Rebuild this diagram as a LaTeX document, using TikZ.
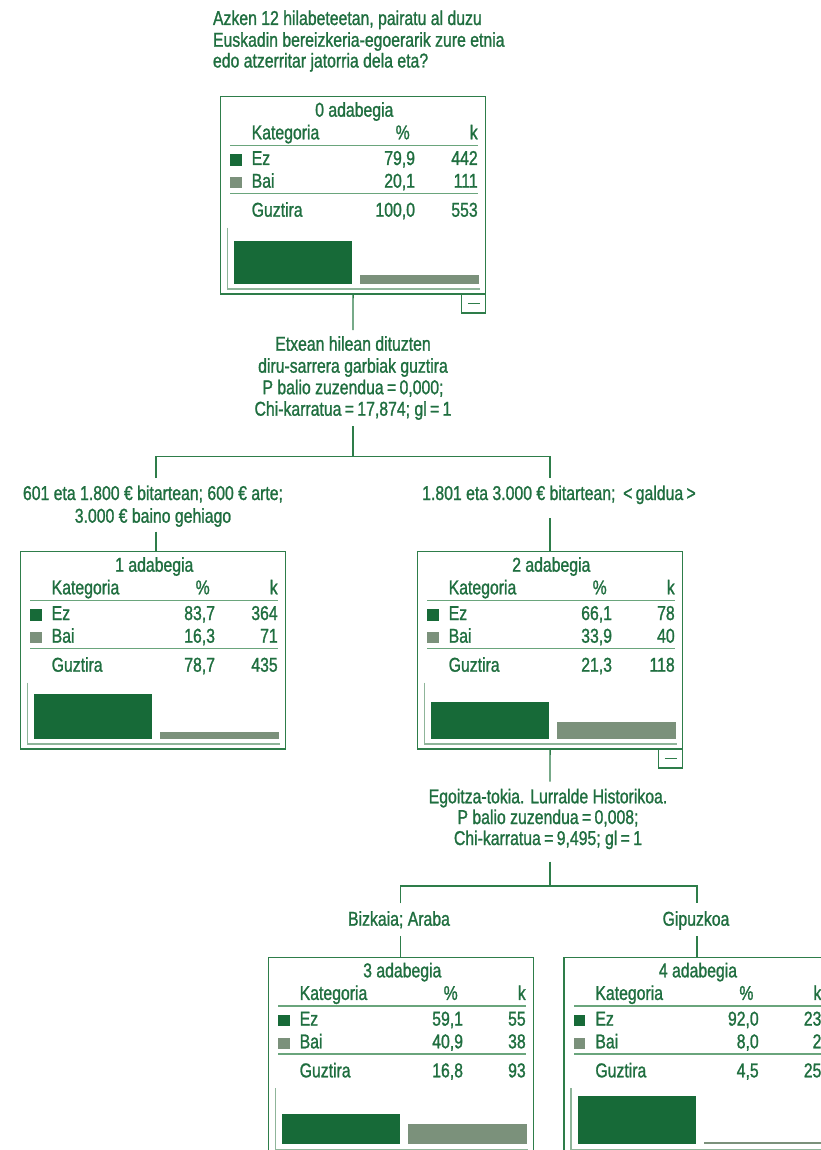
\documentclass[tikz,border=0pt]{standalone}
\usepackage{fontspec}
\setmainfont{Liberation Sans}[FakeStretch=0.79,FakeBold=1.2]
\definecolor{tgreen}{HTML}{1F6E3F}
\definecolor{bgreen}{HTML}{2E7D4A}
\definecolor{rgreen}{HTML}{6AA57C}
\definecolor{agreen}{HTML}{8FB59A}
\definecolor{ezcol}{HTML}{176A38}
\definecolor{baicol}{HTML}{7B917B}
\tikzset{
  txt/.style={inner sep=0pt, outer sep=0pt, text=tgreen, font=\fontsize{20}{24}\selectfont},
  boxframe/.style={draw=bgreen, line width=1.2pt, inner sep=0pt, outer sep=0pt},
  tree/.style={draw=bgreen, line width=1.4pt},
  rulel/.style={draw=rgreen, line width=1.3pt},
  axisl/.style={draw=agreen, line width=1.2pt},
}
\newcommand\treebox[9]{%
  \node[boxframe, anchor=north west, minimum width=265.5pt, minimum height=197.3pt] (#1) at (0,0) {};
  \node[txt, anchor=base] (#1-title) at (134,20) {#2 adabegia};
  \node[txt, anchor=base west] (#1-kat) at (31.4,42.6) {Kategoria};
  \node[txt, anchor=base] (#1-pct) at (182.4,42.6) {\%};
  \node[txt, anchor=base east] (#1-k) at (257.4,42.6) {k};
  \draw[rulel] (10,48.6) -- (258,48.6);
  \fill[ezcol] (10,57.6) rectangle (21.4,69);
  \node[txt, anchor=base west] (#1-ez) at (31.4,68.3) {Ez};
  \node[txt, anchor=base east] (#1-ezp) at (194.7,68.3) {#3};
  \node[txt, anchor=base east] (#1-ezk) at (257.4,68.3) {#4};
  \fill[baicol] (10,80.3) rectangle (21.4,91.7);
  \node[txt, anchor=base west] (#1-bai) at (31.4,91) {Bai};
  \node[txt, anchor=base east] (#1-baip) at (194.7,91) {#5};
  \node[txt, anchor=base east] (#1-baik) at (257.4,91) {#6};
  \draw[rulel] (10,96.6) -- (258,96.6);
  \node[txt, anchor=base west] (#1-tot) at (31.4,120) {Guztira};
  \node[txt, anchor=base east] (#1-totp) at (194.7,120) {#7};
  \node[txt, anchor=base east] (#1-totk) at (257.4,120) {#8};
  \draw[axisl] (7,131) -- (7,192.3) -- (260,192.3);
  \fill[ezcol] (13.7,187) rectangle (132,{187-#9});
}
\newcommand\baibar[1]{\fill[baicol] (139.7,187) rectangle (258.7,{187-#1});}
\newcommand\minusbox[1]{%
  \node[boxframe, anchor=north east, minimum width=24.3pt, minimum height=19pt] (#1-m) at (265.5,197.3) {};
  \draw[bgreen, line width=1pt] (#1-m.west) ++(6.3,0) -- ++(11.7,0);
}
\begin{document}
\begin{tikzpicture}[x=1pt,y=-1pt]
\useasboundingbox (0,0) rectangle (821,1150);
% title
\node[txt, anchor=base west] (t1) at (213,25) {Azken 12 hilabeteetan, pairatu al duzu};
\node[txt, anchor=base west] (t2) at (213,46.7) {Euskadin bereizkeria-egoerarik zure etnia};
\node[txt, anchor=base west] (t3) at (213,67.5) {edo atzerritar jatorria dela eta?};
% node 0
\begin{scope}[shift={(220.3,96.7)}]
  \treebox{n0}{0}{79,9}{442}{20,1}{111}{100,0}{553}{42.7}
  \baibar{9}
  \minusbox{n0}
\end{scope}
% split 0
\coordinate (c0) at (353,330);
\draw[tree] (n0.south) -- (c0);
\node[txt, anchor=base] (s0a) at (353,350.7) {Etxean hilean dituzten};
\node[txt, anchor=base] (s0b) at (353,372.7) {diru-sarrera garbiak guztira};
\node[txt, anchor=base] (s0c) at (353,394.2) {P balio zuzendua\,=\,0,000;};
\node[txt, anchor=base] (s0d) at (353,415.7) {Chi-karratua\,=\,17,874; gl\,=\,1};
\coordinate (c1) at (353,426);
\coordinate (h0) at (353,456.7);
\coordinate (hl) at (156,456.7);
\coordinate (hr) at (550,456.7);
\coordinate (dl) at (156,478);
\coordinate (dr) at (550,478);
\draw[tree] (c1) -- (h0);
\draw[tree] (dl) -- (hl) -- (hr) -- (dr);
\node[txt, anchor=base] (l1a) at (153,500) {601 eta 1.800 € bitartean; 600 € arte;};
\node[txt, anchor=base] (l1b) at (153,522.7) {3.000 € baino gehiago};
\node[txt, anchor=base] (r1) at (559,500) {1.801 eta 3.000 € bitartean; \,<\,galdua\,>};
% node 1
\begin{scope}[shift={(20.3,551.7)}]
  \treebox{n1}{1}{83,7}{364}{16,3}{71}{78,7}{435}{44.7}
  \baibar{6.3}
\end{scope}
% node 2
\begin{scope}[shift={(417.3,551.7)}]
  \treebox{n2}{2}{66,1}{78}{33,9}{40}{21,3}{118}{36.7}
  \baibar{17}
  \minusbox{n2}
\end{scope}
\coordinate (ul) at (156,531.5);
\draw[tree] (ul) -- (ul |- n1.north);
\coordinate (ur) at (550,518.3);
\draw[tree] (ur) -- (ur |- n2.north);
% split 2
\coordinate (c2) at (550,781.7);
\draw[tree] (n2.south) -- (c2);
\node[txt, anchor=base] (s2a) at (548,803.3) {Egoitza-tokia. Lurralde Historikoa.};
\node[txt, anchor=base] (s2b) at (548,824) {P balio zuzendua\,=\,0,008;};
\node[txt, anchor=base] (s2c) at (548,845) {Chi-karratua\,=\,9,495; gl\,=\,1};
\coordinate (c3) at (550,861.7);
\coordinate (h2) at (550,886);
\coordinate (h2l) at (400.5,886);
\coordinate (h2r) at (697,886);
\coordinate (d2l) at (400.5,903.3);
\coordinate (d2r) at (697,903.3);
\draw[tree] (c3) -- (h2);
\draw[tree] (d2l) -- (h2l) -- (h2r) -- (d2r);
\node[txt, anchor=base] (l2) at (399,925.7) {Bizkaia; Araba};
\node[txt, anchor=base] (r2) at (696,925.7) {Gipuzkoa};
% node 3
\begin{scope}[shift={(268.3,957.3)}]
  \treebox{n3}{3}{59,1}{55}{40,9}{38}{16,8}{93}{30.7}
  \baibar{20.7}
\end{scope}
% node 4
\begin{scope}[shift={(564,957.3)}]
  \treebox{n4}{4}{92,0}{23}{8,0}{2}{4,5}{25}{48.7}
  \baibar{2}
\end{scope}
\coordinate (u3) at (400.5,936);
\draw[tree] (u3) -- (u3 |- n3.north);
\coordinate (u4) at (697,936);
\draw[tree] (u4) -- (u4 |- n4.north);
\end{tikzpicture}
\end{document}
